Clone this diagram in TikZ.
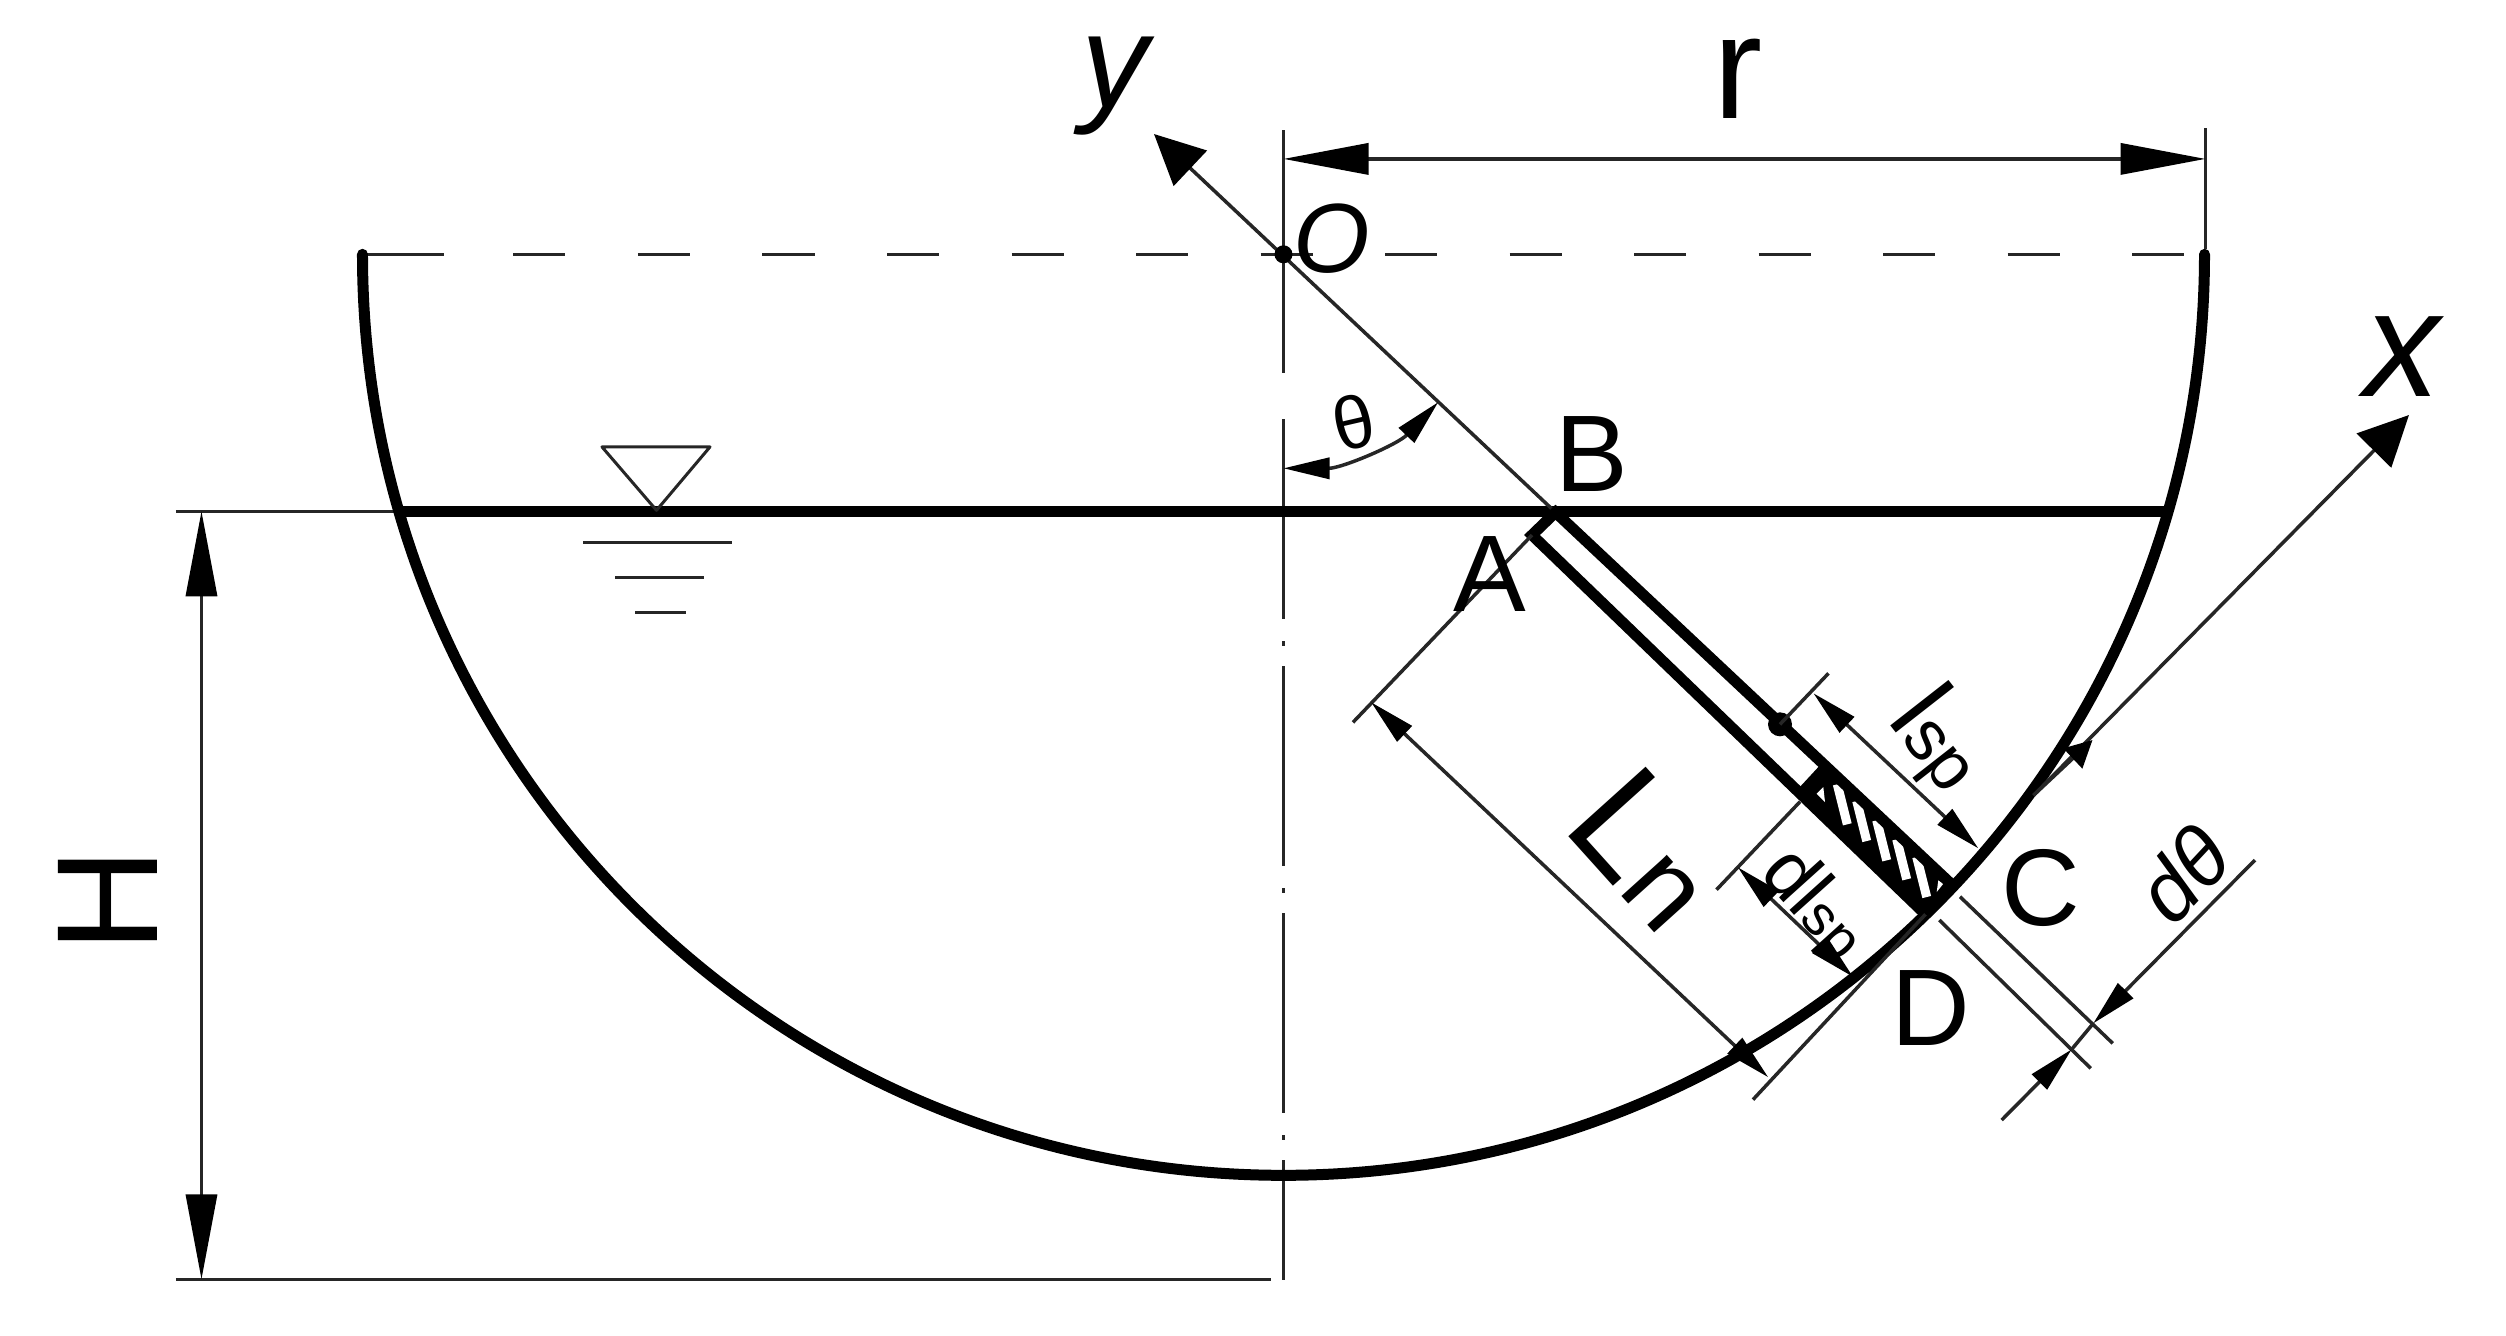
\documentclass[tikz,border=0pt]{standalone}
\usepackage{fontspec}
\setmainfont{Liberation Sans}
\usetikzlibrary{arrows.meta}

\newcommand{\fsz}[1]{\fontsize{#1}{#1}\selectfont}

\tikzset{
  Big/.tip={Triangle[length=.85cm,width=.31cm]},
  Small/.tip={Triangle[length=.46cm,width=.21cm]},
  Axis/.tip={Triangle[length=.5cm,width=.48cm]},
  Mini/.tip={Triangle[length=.27cm,width=.27cm]},
  thinline/.style={line width=.035cm, black!85},
  thickline/.style={line width=.11cm, black},
  letter/.style={inner sep=0pt, font=\fsz{31}},
}

\begin{document}
\begin{tikzpicture}

\useasboundingbox (-12.835,2.543) rectangle (12.225,-10.807);

% Main points, O at the origin
\coordinate (O) at (0,0);
\coordinate (A) at (2.485,-2.807);
\coordinate (B) at (2.72,-2.58);
\coordinate (E) at (4.965,-4.70);
\coordinate (C) at (6.68,-6.30);
\coordinate (D) at (6.42,-6.60);
\coordinate (F) at (5.43,-5.12);
\coordinate (G) at (5.18,-5.39);

% Center line and dashed top line
\draw [thinline] (0,1.24) -- (0,-1.19);
\draw [thinline, dash pattern=on 2cm off .22cm on .05cm off .2cm] (0,-1.65) -- (0,-10.26);
\draw [thinline, dash pattern=on .52cm off .725cm] (-7.70,0) -- (9.22,0);
\draw [thinline] (-9.21,0) -- (-8.39,0);

% Water surface and tank wall
\draw [thinline] (-11.075,-2.57) -- (-8.85,-2.57);
\draw [thickline] (-8.85,-2.57) -- (8.85,-2.57);
\draw [thickline, line cap=round] (-9.21,0) arc (180:360:9.21);

% Water level mark
\draw [line width=.03cm, black!85, line join=round] (-6.815,-1.926) -- (-5.735,-1.926) -- (-6.27,-2.56) -- cycle;
\draw [thinline] (-7.0,-2.88) -- (-5.51,-2.88);
\draw [thinline] (-6.68,-3.23) -- (-5.79,-3.23);
\draw [thinline] (-6.48,-3.58) -- (-5.97,-3.58);

% Axes
\draw [thinline, -{Axis[black]}] (B) -- (-1.295,1.203);
\draw [thinline, -{Axis[black]}] (7.5,-5.41) -- (11.255,-1.607);
\fill (O) circle (.09);

% Hatched part of the plate
\fill (F) -- (C) -- (D) -- (G) -- cycle;
\foreach \x/\y in {5.588/-5.50, 5.782/-5.667, 5.982/-5.86, 6.182/-6.05, 6.382/-6.227}
  \draw [white, line width=.09cm] (\x-.05,\y+.2) -- (\x+.05,\y-.2);
\fill [white] (5.398,-5.327) -- (5.332,-5.394) -- (5.415,-5.477) -- cycle;
\fill [white] (6.548,-6.26) -- (6.532,-6.377) -- (6.598,-6.294) -- cycle;

% Plate
\draw [thickline] (D) -- (A) -- (B) -- (C);
\draw [thickline] (G) -- (F);
\fill (E) circle (.12);

% Dimension r
\draw [thinline] (9.22,1.26) -- (9.22,.05);
\draw [thinline, {Big[black]}-{Big[black]}] (0,.954) -- (9.22,.954);

% Dimension H
\draw [thinline] (-11.075,-10.25) -- (-.13,-10.25);
\draw [thinline, {Big[black]}-{Big[black]}] (-10.82,-2.57) -- (-10.82,-10.25);

% Angle
\draw [thinline, {Small[black]}-{Small[black]}] (0,-2.14) arc (-90:-43.7:2.14);
\draw [thinline, -{Mini[black]}] (7.5,-5.41) -- (8.09,-4.857);

% Dimensions along the plate
\draw [thinline] (A) -- (.695,-4.68);
\draw [thinline] (D) -- (4.695,-8.453);
\draw [thinline, {Small[black]}-{Small[black]}] (.877,-4.48) -- (4.847,-8.229);

\draw [thinline] (E) -- (5.45,-4.19);
\draw [thinline, {Small[black]}-{Small[black]}] (5.30,-4.39) -- (6.948,-5.94);

\draw [thinline] (5.165,-5.474) -- (4.33,-6.354);
\draw [thinline, {Small[black]}-{Small[black]}] (4.544,-6.13) -- (5.695,-7.225);

% Dimension d-theta
\draw [thinline] (6.765,-6.424) -- (8.292,-7.89);
\draw [thinline] (6.558,-6.657) -- (8.072,-8.14);
\draw [thinline, -{Small[black]}] (9.715,-6.057) -- (8.098,-7.69);
\draw [thinline, -{Small[black]}] (7.182,-8.657) -- (7.882,-7.95);
\draw [thinline] (8.098,-7.69) -- (7.882,-7.95);

% Labels
\node [letter, font=\fsz{38}\itshape] (lbly) at (-1.69,1.68) {y};
\node [letter, font=\fsz{42}] (lblr) at (4.55,1.76) {r};
\node [letter, font=\fsz{28}\itshape] (lblO) at (.48,.16) {O};
\node [letter, font=\fsz{21}, rotate=13] (lbltheta) at (.70,-1.68) {θ};
\node [letter] (lblB) at (3.08,-2.0) {B};
\node [letter] (lblA) at (2.06,-3.2) {A};
\node [letter, font=\fsz{43}\itshape] (lblx) at (11.19,-1.02) {x};
\node [letter] (lblC) at (7.57,-6.34) {C};
\node [letter] (lblD) at (6.47,-7.54) {D};
\node [letter, font=\fsz{41}, rotate=90] (lblH) at (-11.76,-6.46) {H};
\node [letter, rotate=-48] (lblL) at (3.65,-5.94) {{\fsz{43}L}{\fsz{33}n}};
\node [letter, rotate=-52] (lbllsp) at (6.56,-4.86) {{\fsz{29}l}{\fsz{20}sp}};
\node [letter, rotate=-48] (lbldlsp) at (5.31,-6.5) {{\fsz{22}dl}{\fsz{16}sp}};
\node [letter, font=\fsz{24}\itshape, rotate=47] (lbldtheta) at (9.0,-6.2) {dθ};

\end{tikzpicture}
\end{document}
